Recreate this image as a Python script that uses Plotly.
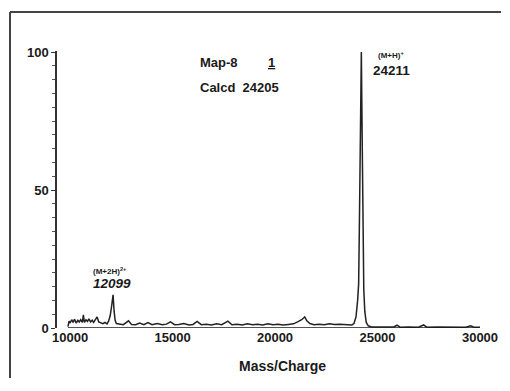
import plotly.graph_objects as go

# m/z values and relative intensities
mass_charge = [
    9900, 9950, 10000, 10080, 10150, 10220, 10300, 10380, 10450, 10520,
    10600, 10650, 10700, 10780, 10850, 10920, 11000, 11080, 11150, 11250,
    11320, 11400, 11500, 11600, 11700, 11800, 11880, 11960, 12030, 12099,
    12150, 12200, 12260, 12400, 12600, 12850, 13000, 13200, 13400, 13600,
    13800, 14000, 14250, 14500, 14700, 14900, 15100, 15300, 15550, 15800,
    16000, 16200, 16400, 16650, 16900, 17150, 17400, 17700, 17900, 18150,
    18400, 18650, 18900, 19150, 19400, 19650, 19900, 20150, 20400, 20650,
    20900, 21100, 21300, 21450, 21550, 21700, 21900, 22150, 22400, 22650,
    22900, 23150, 23400, 23600, 23750, 23850, 23950, 24030, 24080, 24120,
    24160, 24211, 24250, 24290, 24330, 24380, 24450, 24550, 24700, 25000,
    25400, 25800, 25950, 26100, 26500, 27000, 27250, 27400, 27900, 28400,
    28900, 29300, 29550, 29700, 30000,
]
intensity = [
    0.5, 2.5, 1.8, 3.0, 2.0, 3.2, 1.8, 2.8, 2.2, 3.0,
    2.0, 4.8, 2.0, 3.0, 2.4, 3.3, 2.2, 2.8, 2.0, 3.5,
    4.0, 2.2, 1.8, 1.6, 2.0, 1.5, 2.5, 4.5, 8.0, 12.0,
    6.0, 2.8, 1.6, 1.4, 1.2, 2.6, 1.3, 1.2, 1.8, 1.2,
    2.0, 1.2, 1.6, 1.2, 1.4, 2.2, 1.2, 1.3, 1.6, 1.1,
    1.3, 2.4, 1.2, 1.4, 1.1, 1.5, 1.2, 2.5, 1.2, 1.4,
    1.1, 1.5, 1.2, 1.4, 1.1, 1.5, 1.2, 1.4, 1.1, 1.3,
    1.5, 2.2, 3.0, 4.0, 2.6, 1.6, 1.2, 1.4, 1.2, 1.5,
    1.3, 1.4, 1.2, 1.0, 1.1, 1.6, 4.0, 10.0, 16.0, 40.0,
    75.0, 100.0, 70.0, 35.0, 14.0, 6.0, 2.0, 0.8, 0.4, 0.4,
    0.3, 0.4, 1.0, 0.3, 0.4, 0.3, 1.1, 0.3, 0.4, 0.3,
    0.4, 0.3, 0.8, 0.3, 0.3,
]

x_ticks = [10000, 15000, 20000, 25000, 30000]
x_tick_labels = ["10000", "15000", "20000", "25000", "30000"]
x_axis_start, x_axis_end = 9900, 30000
y_ticks = [0, 50, 100]

FONT = "Liberation Sans, Arial, sans-serif"

# figure sits 8px inside the page (body margin); keep it small enough to avoid scrollbars
W, H = 494, 370
L, R, T, B = 49, 22, 43, 50
PW, PH = W - L - R, H - T - B
# x range extended a little left so the y axis stands apart from the x axis line
x_left = x_axis_start - 11 * (x_axis_end - x_axis_start) / (PW - 11)


def px(xp):
    return (xp - L) / PW


def py(yp):
    return (H - B - yp) / PH


fig = go.Figure()
fig.add_trace(go.Scatter(
    x=mass_charge, y=intensity, mode="lines",
    line=dict(color="#222222", width=1.5),
    hoverinfo="skip", showlegend=False,
))

fig.update_layout(
    width=W, height=H,
    margin=dict(l=L, r=R, t=T, b=B, autoexpand=False),
    paper_bgcolor="white", plot_bgcolor="white",
    font=dict(family=FONT, size=13, color="#1a1a1a"),
    showlegend=False,
    xaxis=dict(
        range=[x_left, x_axis_end], automargin=False,
        tickvals=x_ticks, ticktext=x_tick_labels, ticks="",
        showgrid=False, zeroline=False, showline=False,
        tickfont=dict(family=FONT, size=13, weight="bold"),
    ),
    yaxis=dict(
        range=[0, 100.4], automargin=False,
        tickmode="linear", tick0=y_ticks[0], dtick=y_ticks[1] - y_ticks[0],
        ticks="outside", ticklen=4, tickwidth=1.2, tickcolor="#333",
        minor=dict(dtick=5, ticks="outside", ticklen=3, tickwidth=1, tickcolor="#555"),
        showgrid=False, zeroline=False,
        showline=True, linecolor="#333333", linewidth=1.5,
        tickfont=dict(family=FONT, size=13, weight="bold"),
    ),
)

# x axis line (starts at the data start, separate from the y axis)
fig.add_shape(type="line", xref="x", yref="y",
              x0=x_axis_start, x1=x_axis_end, y0=0, y1=0,
              line=dict(color="#1a1a1a", width=1.5))

ann = [
    dict(x=16244, y=96.4, text="Map-8", xanchor="left", size=13, style="normal"),
    dict(x=19806, y=96.4, text="<u>1</u>", xanchor="center", size=13, style="normal"),
    dict(x=16244, y=87.0, text="Calcd&nbsp;&nbsp;24205", xanchor="left", size=13, style="normal"),
    dict(x=25650, y=99.0, text="(M+H)<sup>+</sup>", xanchor="center", size=8, style="normal"),
    dict(x=25700, y=93.5, text="24211", xanchor="center", size=13.5, style="normal"),
    dict(x=11950, y=20.5, text="(M+2H)<sup>2+</sup>", xanchor="center", size=8, style="normal"),
    dict(x=12060, y=16.3, text="12099", xanchor="center", size=13.5, style="italic"),
]
for a in ann:
    fig.add_annotation(
        x=a["x"], y=a["y"], xref="x", yref="y", text=a["text"],
        showarrow=False, xanchor=a["xanchor"], yanchor="middle",
        font=dict(family=FONT, size=a["size"], weight="bold", style=a["style"], color="#1a1a1a"),
    )

fig.add_annotation(
    x=px(282 - 8), y=py(366 - 8), xref="paper", yref="paper",
    text="Mass/Charge", showarrow=False, xanchor="center", yanchor="middle",
    font=dict(family=FONT, size=14, weight="bold", color="#1a1a1a"),
)

# outer frame lines (left and top)
fig.add_shape(type="line", xref="paper", yref="paper",
              x0=px(10 - 8), x1=px(10 - 8),
              y0=py(12 - 8), y1=py(H),
              line=dict(color="#444444", width=2))
fig.add_shape(type="line", xref="paper", yref="paper",
              x0=px(10 - 8), x1=px(W - 1),
              y0=py(12 - 8), y1=py(12 - 8),
              line=dict(color="#444444", width=2))

fig.write_html("out.html")
